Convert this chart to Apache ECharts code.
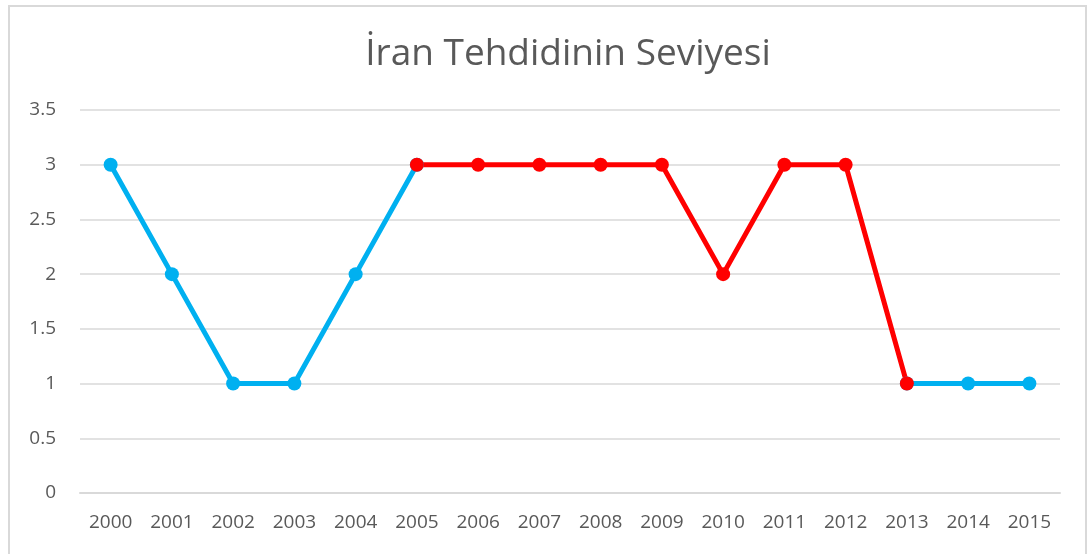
<!DOCTYPE html>
<html><head><meta charset="utf-8">
<script src="https://cdn.jsdelivr.net/npm/echarts@6/dist/echarts.min.js"></script>
<style>html,body{margin:0;padding:0;background:#fff}#c{width:1091px;height:554px}</style>
</head><body><div id="c"></div>
<script>
const years = ['2000','2001','2002','2003','2004','2005','2006','2007','2008','2009','2010','2011','2012','2013','2014','2015'];
const bluePart1 = [3,2,1,1,2,3,null,null,null,null,null,null,null,null,null,null];
const redPart   = [null,null,null,null,null,3,3,3,3,3,2,3,3,1,null,null];
const bluePart2 = [null,null,null,null,null,null,null,null,null,null,null,null,null,1,1,1];
const yTicks = [0,0.5,1,1.5,2,2.5,3,3.5];

const chart = echarts.init(document.getElementById('c'));
const font = '"Open Sans", "Noto Sans", sans-serif';
function line(name, data, color){
  return {name, type:'line', data, connectNulls:false, symbol:'circle', symbolSize:14,
    lineStyle:{color, width:5}, itemStyle:{color}, animation:false};
}
chart.setOption({
  animation:false,
  title:{text:'İran Tehdidinin Seviyesi', left:563, textAlign:'center', top:31,
    textStyle:{fontFamily:font, fontSize:37, fontWeight:'normal', color:'#595959'}},
  graphic:[{type:'rect', shape:{x:9, y:6, width:1077, height:560}, style:{fill:null, stroke:'#d9d9d9', lineWidth:2}, silent:true}],
  grid:{left:80, right:31, top:110, bottom:61, containLabel:false},
  xAxis:{type:'category', data:years, boundaryGap:true,
    axisLine:{show:true, lineStyle:{color:'#d9d9d9', width:2}}, axisTick:{show:false},
    axisLabel:{fontFamily:font, fontSize:19, color:'#595959', margin:20}},
  yAxis:{type:'value', min:yTicks[0], max:yTicks[yTicks.length-1], interval:0.5,
    axisLine:{show:false}, axisTick:{show:false},
    splitLine:{lineStyle:{color:'#d9d9d9', width:1.5}},
    axisLabel:{fontFamily:font, fontSize:19, color:'#595959', margin:24}},
  series:[line('a', bluePart1, '#00B0F0'), line('c', bluePart2, '#00B0F0'), line('b', redPart, '#FF0000')]
});
</script></body></html>
